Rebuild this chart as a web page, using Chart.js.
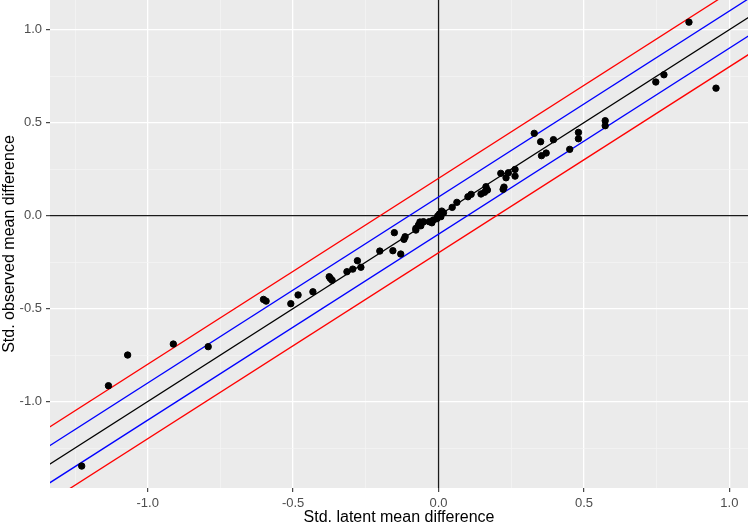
<!DOCTYPE html>
<html>
<head>
<meta charset="utf-8">
<script src="https://cdn.jsdelivr.net/npm/chart.js@4.4.1/dist/chart.umd.min.js"></script>
<style>
	html, body { margin: 0; padding: 0; background: #ffffff; }
	#wrap { width: 748px; height: 527px; }
</style>
</head>
<body>
<div id="wrap"><canvas id="myChart" width="748" height="527"></canvas></div>
<script>
// latent (x) vs observed (y) standardized mean differences
var latent = [
	0.861, 0.747, 0.775, 0.954, 0.573, 0.573, 0.481, 0.481, 0.451, 0.395,
	0.329, 0.351, 0.370, 0.354, 0.263, 0.263, 0.240, 0.214, 0.232, 0.222,
	0.225, 0.163, 0.168, 0.158, 0.146, 0.112, 0.101, 0.063, 0.047, 0.011,
	0.017, 0.003, -0.003, 0.008, -0.006, -0.018, -0.023, -0.032, -0.052, -0.064,
	-0.061, -0.069, -0.078, -0.078, -0.115, -0.119, -0.152, -0.157, -0.130, -0.202,
	-0.279, -0.267, -0.295, -0.315, -0.376, -0.372, -0.366, -0.432, -0.483, -0.508,
	-0.602, -0.593, -0.912, -0.792, -1.069, -1.135, -1.227
];
var observed = [
	1.040, 0.718, 0.757, 0.685, 0.510, 0.483, 0.447, 0.413, 0.356, 0.408,
	0.442, 0.397, 0.336, 0.322, 0.248, 0.212, 0.230, 0.227, 0.203, 0.141,
	0.153, 0.155, 0.137, 0.125, 0.116, 0.114, 0.101, 0.071, 0.044, 0.024,
	0.015, 0.008, -0.003, -0.006, -0.017, -0.024, -0.039, -0.033, -0.033, -0.035,
	-0.055, -0.051, -0.069, -0.078, -0.114, -0.128, -0.092, -0.189, -0.207, -0.191,
	-0.243, -0.278, -0.288, -0.302, -0.329, -0.338, -0.348, -0.410, -0.427, -0.474,
	-0.451, -0.460, -0.691, -0.705, -0.750, -0.915, -1.347
];

// reference lines y = x + offset
var lineOffsets = [0, 0.1, -0.1, 0.2, -0.2];
var lineColors  = ['#000000', '#0000ff', '#0000ff', '#ff0000', '#ff0000'];
var lineEnds    = [-1.6, 1.2];

var majorTicks = [-1, -0.5, 0, 0.5, 1];
var minorTicks = [-1.25, -0.75, -0.25, 0.25, 0.75];

var xRange = [-1.336, 1.064];
var yRange = [-1.465, 1.159];

function allTicks() {
	return majorTicks.concat(minorTicks).sort(function(a, b) { return a - b; })
		.map(function(v) { return {value: v}; });
}

function isMajor(v) {
	return majorTicks.some(function(m) { return Math.abs(m - v) < 1e-9; });
}

var datasets = [];

datasets.push({
	type: 'scatter',
	data: latent.map(function(x, i) { return {x: x, y: observed[i]}; }),
	backgroundColor: '#000000',
	borderColor: '#000000',
	pointRadius: 3.2,
	pointHoverRadius: 3.2,
	order: 0
});

lineOffsets.forEach(function(off, i) {
	datasets.push({
		type: 'line',
		data: lineEnds.map(function(x) { return {x: x, y: x + off}; }),
		borderColor: lineColors[i],
		borderWidth: 1.3,
		pointRadius: 0,
		fill: false,
		order: 2
	});
});

// zero axes
datasets.push({
	type: 'line',
	data: [{x: 0, y: -2}, {x: 0, y: 2}],
	borderColor: '#1a1a1a', borderWidth: 1.3, pointRadius: 0, fill: false, order: 3
});
datasets.push({
	type: 'line',
	data: [{x: -2, y: 0}, {x: 2, y: 0}],
	borderColor: '#1a1a1a', borderWidth: 1.3, pointRadius: 0, fill: false, order: 3
});

var panelBg = {
	id: 'panelBg',
	beforeDraw: function(chart) {
		var a = chart.chartArea, ctx = chart.ctx;
		ctx.save();
		ctx.fillStyle = '#ebebeb';
		ctx.fillRect(a.left, a.top, a.right - a.left, a.bottom - a.top);
		ctx.restore();
	}
};

function gridOpts() {
	return {
		color: function(c) { return c.tick && isMajor(c.tick.value) ? '#ffffff' : '#f5f5f5'; },
		lineWidth: function(c) { return c.tick && isMajor(c.tick.value) ? 1.3 : 0.7; },
		tickColor: function(c) { return c.tick && isMajor(c.tick.value) ? '#333333' : 'rgba(0,0,0,0)'; },
		tickWidth: 1.1,
		tickLength: 4,
		drawTicks: true
	};
}

var tickFont = {family: 'Liberation Sans, Arial, sans-serif', size: 13};
var titleFont = {family: 'Liberation Sans, Arial, sans-serif', size: 16};

new Chart(document.getElementById('myChart').getContext('2d'), {
	data: {datasets: datasets},
	options: {
		responsive: false,
		animation: false,
		layout: {padding: 0, autoPadding: false},
		plugins: {
			legend: {display: false},
			tooltip: {enabled: false}
		},
		scales: {
			x: {
				type: 'linear',
				min: xRange[0],
				max: xRange[1],
				afterBuildTicks: function(s) { s.ticks = allTicks(); },
				afterFit: function(s) {
					s.height = 39;
					s.paddingLeft = 0; s.paddingRight = 0;
				},
				grid: gridOpts(),
				border: {display: false},
				ticks: {
					font: tickFont,
					color: '#4d4d4d',
					padding: 4,
					maxRotation: 0,
					autoSkip: false,
					callback: function(v) { return isMajor(v) ? v.toFixed(1) : ''; }
				},
				title: {
					display: true,
					text: 'Std. latent mean difference',
					font: titleFont,
					color: '#000000',
					padding: 0
				}
			},
			y: {
				type: 'linear',
				min: yRange[0],
				max: yRange[1],
				afterBuildTicks: function(s) { s.ticks = allTicks(); },
				afterFit: function(s) {
					s.width = 50;
					s.paddingTop = 0; s.paddingBottom = 0;
				},
				grid: gridOpts(),
				border: {display: false},
				ticks: {
					font: tickFont,
					color: '#4d4d4d',
					padding: 4,
					autoSkip: false,
					callback: function(v) { return isMajor(v) ? v.toFixed(1) : ''; }
				},
				title: {
					display: true,
					text: 'Std. observed mean difference',
					font: titleFont,
					color: '#000000',
					padding: 0
				}
			}
		}
	},
	plugins: [panelBg]
});
</script>
</body>
</html>
